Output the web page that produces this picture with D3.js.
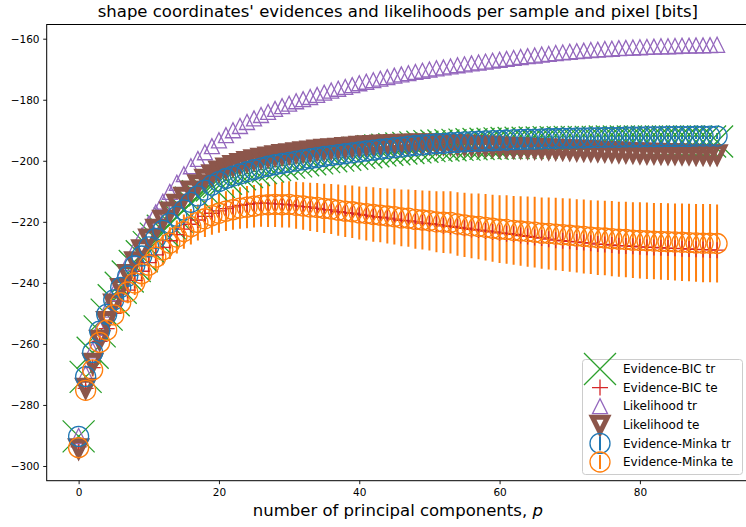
<!DOCTYPE html>
<html>
<head>
<meta charset="utf-8">
<script src="https://cdnjs.cloudflare.com/ajax/libs/d3/7.8.5/d3.min.js"></script>
<style>
body { margin: 0; background: #fff; }
text { font-family: "DejaVu Sans", sans-serif; fill: #000; }
</style>
</head>
<body>
<div id="chart"></div>
<script>
// values, p = 0..91
const components = d3.range(92);

const evidenceBicTr = [
  -290.3,-270.8,-262.9,-255.9,-250.4,-245.7,-241.6,-237.9,-234.5,-231.3,
  -228.3,-225.5,-222.9,-220.5,-218.3,-216.2,-213.7,-211.6,-209.7,-208.1,
  -206.9,-205.9,-205.1,-204.4,-203.7,-203.0,-202.4,-201.9,-201.4,-201.0,
  -200.6,-200.2,-199.8,-199.5,-199.2,-198.8,-198.5,-198.3,-198.0,-197.7,
  -197.4,-197.2,-196.9,-196.6,-196.4,-196.2,-196.0,-195.8,-195.6,-195.4,
  -195.2,-195.1,-195.0,-194.9,-194.8,-194.7,-194.6,-194.5,-194.4,-194.4,
  -194.3,-194.2,-194.2,-194.1,-194.1,-194.0,-194.0,-193.9,-193.9,-193.9,
  -193.8,-193.8,-193.8,-193.8,-193.8,-193.7,-193.7,-193.7,-193.7,-193.7,
  -193.7,-193.7,-193.7,-193.7,-193.7,-193.7,-193.7,-193.7,-193.7,-193.7,
  -193.7,-193.7];

const evidenceBicTe = [
  -293.7,-274.6,-267.8,-259.2,-255.0,-250.0,-246.0,-242.4,-239.2,-236.2,
  -233.4,-230.8,-228.4,-226.2,-224.2,-222.4,-220.8,-219.4,-218.2,-217.2,
  -216.4,-215.7,-215.1,-214.6,-214.3,-214.0,-213.9,-213.9,-214.1,-214.2,
  -214.4,-214.8,-215.0,-215.2,-215.6,-216.0,-216.2,-216.7,-217.0,-217.2,
  -217.6,-217.9,-218.3,-218.5,-218.8,-219.1,-219.5,-219.7,-220.0,-220.4,
  -220.6,-220.9,-221.3,-221.5,-221.8,-222.1,-222.5,-222.7,-223.0,-223.3,
  -223.6,-223.9,-224.1,-224.5,-224.8,-225.1,-225.3,-225.7,-226.0,-226.2,
  -226.4,-226.6,-226.8,-227.0,-227.3,-227.4,-227.6,-227.8,-227.9,-228.0,
  -228.2,-228.3,-228.4,-228.5,-228.6,-228.7,-228.8,-228.9,-229.0,-229.1,
  -229.2,-229.3];

const likelihoodTr = [
  -290.2,-269.7,-262.1,-254.7,-248.8,-243.4,-238.3,-233.5,-228.9,-224.6,
  -220.6,-216.9,-213.4,-210.2,-207.2,-204.4,-201.8,-199.4,-197.2,-195.2,
  -193.3,-191.6,-190.0,-188.6,-187.3,-186.1,-185.0,-184.0,-183.0,-182.1,
  -181.3,-180.5,-179.8,-179.1,-178.4,-177.7,-177.0,-176.4,-175.8,-175.2,
  -174.6,-174.1,-173.6,-173.1,-172.6,-172.1,-171.7,-171.3,-170.9,-170.5,
  -170.1,-169.7,-169.4,-169.1,-168.7,-168.4,-168.1,-167.8,-167.5,-167.2,
  -166.9,-166.6,-166.3,-166.0,-165.7,-165.5,-165.2,-165.0,-164.7,-164.5,
  -164.3,-164.1,-163.9,-163.7,-163.6,-163.4,-163.3,-163.1,-163.0,-162.9,
  -162.8,-162.7,-162.6,-162.5,-162.5,-162.4,-162.3,-162.3,-162.2,-162.2,
  -162.1,-162.0];

const likelihoodTe = [
  -294.2,-274.4,-266.2,-258.6,-252.5,-246.8,-241.7,-237.1,-232.9,-229.0,
  -225.5,-222.3,-219.3,-216.6,-214.1,-211.8,-209.7,-207.7,-205.9,-204.4,
  -203.2,-202.2,-201.4,-200.7,-200.1,-199.5,-199.0,-198.6,-198.2,-197.8,
  -197.5,-197.2,-196.9,-196.6,-196.3,-196.1,-195.9,-195.7,-195.5,-195.3,
  -195.1,-194.9,-194.8,-194.7,-194.6,-194.5,-194.4,-194.4,-194.3,-194.3,
  -194.3,-194.4,-194.4,-194.5,-194.6,-194.7,-194.8,-194.9,-195.0,-195.1,
  -195.3,-195.4,-195.5,-195.6,-195.7,-195.8,-195.9,-196.0,-196.1,-196.2,
  -196.3,-196.4,-196.5,-196.6,-196.7,-196.8,-196.9,-197.0,-197.1,-197.2,
  -197.3,-197.4,-197.4,-197.5,-197.6,-197.6,-197.7,-197.7,-197.8,-197.8,
  -197.9,-197.9];

const evidenceMinkaTr = [
  -290.3,-270.7,-262.8,-255.8,-250.3,-245.6,-241.5,-237.8,-234.4,-231.2,
  -228.2,-225.4,-222.8,-220.4,-218.2,-216.1,-213.6,-211.5,-209.6,-208.0,
  -206.8,-205.8,-205.0,-204.3,-203.6,-202.9,-202.3,-201.8,-201.3,-200.9,
  -200.5,-200.1,-199.7,-199.3,-199.0,-198.6,-198.3,-198.0,-197.7,-197.4,
  -197.1,-196.8,-196.5,-196.2,-196.0,-195.7,-195.5,-195.2,-195.0,-194.8,
  -194.6,-194.4,-194.3,-194.1,-194.0,-193.8,-193.7,-193.6,-193.5,-193.4,
  -193.3,-193.2,-193.1,-193.0,-192.9,-192.9,-192.8,-192.7,-192.7,-192.6,
  -192.6,-192.5,-192.5,-192.4,-192.4,-192.3,-192.3,-192.3,-192.2,-192.2,
  -192.2,-192.1,-192.1,-192.1,-192.0,-192.0,-192.0,-192.0,-191.9,-191.9,
  -191.9,-191.9];

const evidenceMinkaTrErr = [
  0.3,0.4,0.4,0.4,0.5,0.5,0.5,0.5,0.6,0.6,
  0.6,0.6,0.6,0.7,0.7,0.7,0.7,0.7,0.7,0.7,
  0.7,0.8,0.8,0.8,0.8,0.8,0.8,0.8,0.8,0.8,
  0.8,0.8,0.8,0.9,0.9,0.9,0.9,0.9,0.9,0.9,
  0.9,0.9,0.9,0.9,0.9,0.9,0.9,0.9,1.0,1.0,
  1.0,1.0,1.0,1.0,1.0,1.0,1.0,1.0,1.0,1.0,
  1.0,1.0,1.0,1.0,1.0,1.0,1.0,1.0,1.0,1.0,
  1.0,1.0,1.0,1.0,1.0,1.0,1.0,1.0,1.0,1.0,
  1.0,1.0,1.0,1.0,1.0,1.0,1.0,1.0,1.0,1.0,
  1.0,1.0];

const evidenceMinkaTe = [
  -294.0,-275.2,-268.5,-259.5,-255.5,-250.5,-246.5,-243.0,-240.0,-237.0,
  -234.2,-231.6,-229.2,-227.0,-225.0,-223.2,-221.6,-220.2,-219.0,-218.0,
  -217.2,-216.5,-216.0,-215.5,-215.2,-214.9,-214.5,-214.4,-214.3,-214.4,
  -214.3,-214.6,-214.8,-215.1,-215.3,-215.6,-215.8,-216.2,-216.5,-216.7,
  -217.1,-217.3,-217.6,-217.8,-218.1,-218.3,-218.7,-218.8,-219.2,-219.4,
  -219.6,-220.0,-220.1,-220.2,-220.7,-221.0,-221.3,-221.5,-221.8,-222.1,
  -222.4,-222.5,-222.8,-223.0,-223.2,-223.4,-223.7,-223.8,-224.0,-224.2,
  -224.4,-224.6,-224.8,-225.0,-225.2,-225.3,-225.5,-225.7,-225.8,-226.0,
  -226.1,-226.2,-226.3,-226.4,-226.5,-226.6,-226.7,-226.8,-226.9,-227.0,
  -227.0,-227.1];

const evidenceMinkaTeErr = [
  1.5,1.9,2.2,2.5,2.8,3.1,3.4,3.7,4.0,4.3,
  4.6,4.8,5.0,5.2,5.4,5.6,5.8,5.9,6.0,6.2,
  6.4,6.5,6.6,6.8,6.9,7.0,7.1,7.3,7.4,7.5,
  7.6,7.7,7.8,7.9,8.0,8.1,8.2,8.4,8.5,8.6,
  8.7,8.8,8.9,8.9,9.0,9.1,9.3,9.4,9.6,9.7,
  9.8,10.0,10.1,10.2,10.4,10.5,10.6,10.8,10.9,11.0,
  11.1,11.2,11.3,11.4,11.5,11.6,11.7,11.8,11.9,11.9,
  12.0,12.0,12.1,12.1,12.2,12.2,12.3,12.3,12.4,12.4,
  12.5,12.5,12.5,12.6,12.6,12.6,12.7,12.7,12.7,12.8,
  12.8,12.8];

const yTicks = [-300, -280, -260, -240, -220, -200, -180, -160];
const xTicks = [0, 20, 40, 60, 80];
const legendLabels = ["Evidence-BIC tr", "Evidence-BIC te", "Likelihood tr",
                      "Likelihood te", "Evidence-Minka tr", "Evidence-Minka te"];

// matplotlib tab10
const colors = {blue: "#1f77b4", orange: "#ff7f0e", green: "#2ca02c",
                red: "#d62728", purple: "#9467bd", brown: "#8c564b"};

const width = 746;
const height = 527;
const plotLeft = 46.7, plotRight = 749, plotTop = 24.5, plotBottom = 480.7;

const x = d3.scaleLinear().domain([-4.55, 95.55]).range([plotLeft, plotRight]);
const y = d3.scaleLinear().domain([-304.82, -155.35]).range([plotBottom, plotTop]);

// marker outlines around (0,0)
function markerPath(kind) {
    if (kind == "x") return "M-16,-16L16,16M-16,16L16,-16";
    if (kind == "+") return "M-8,0L8,0M0,-8L0,8";
    if (kind == "^") return "M0,-7.5L-7.5,7.5L7.5,7.5Z";
    if (kind == "v") return "M0,7.5L-7.5,-7.5L7.5,-7.5Z";
    return d3.arc()({innerRadius: 0, outerRadius: 10, startAngle: 0, endAngle: 2 * Math.PI});
}

// legend order; draw order follows matplotlib zorder (errorbar lines, plain lines, errorbar markers)
const series = [
    {label: legendLabels[0], values: evidenceBicTr, color: colors.green, marker: "x", sw: 1.3},
    {label: legendLabels[1], values: evidenceBicTe, color: colors.red, marker: "+", sw: 1.3},
    {label: legendLabels[2], values: likelihoodTr, color: colors.purple, marker: "^", sw: 1.3},
    {label: legendLabels[3], values: likelihoodTe, color: colors.brown, marker: "v", sw: 5},
    {label: legendLabels[4], values: evidenceMinkaTr, err: evidenceMinkaTrErr, color: colors.blue, marker: "o", sw: 1.3},
    {label: legendLabels[5], values: evidenceMinkaTe, err: evidenceMinkaTeErr, color: colors.orange, marker: "o", sw: 1.3}
];

const svg = d3.select("#chart")
    .append("svg")
    .attr("width", width)
    .attr("height", height);

svg.append("defs").append("clipPath")
    .attr("id", "plot-clip")
    .append("rect")
    .attr("x", plotLeft)
    .attr("y", plotTop)
    .attr("width", plotRight - plotLeft)
    .attr("height", plotBottom - plotTop);

const plot = svg.append("g").attr("clip-path", "url(#plot-clip)");

function drawErrorbars(s) {
    plot.append("g")
        .selectAll("line")
        .data(components)
        .enter()
        .append("line")
        .attr("x1", d => x(d))
        .attr("x2", d => x(d))
        .attr("y1", d => y(s.values[d] - s.err[d]))
        .attr("y2", d => y(s.values[d] + s.err[d]))
        .style("stroke", s.color)
        .style("stroke-width", 2);
}

function drawMarkers(s) {
    plot.append("g")
        .selectAll("path")
        .data(components)
        .enter()
        .append("path")
        .attr("d", markerPath(s.marker))
        .attr("transform", d => `translate(${x(d)},${y(s.values[d])})`)
        .style("fill", "none")
        .style("stroke", s.color)
        .style("stroke-width", s.sw)
        .style("stroke-linejoin", "miter");
}

series.filter(s => s.err).forEach(drawErrorbars);
series.filter(s => !s.err).forEach(drawMarkers);
series.filter(s => s.err).forEach(drawMarkers);

// axes
const xAxis = svg.append("g")
    .attr("transform", `translate(0,${plotBottom})`)
    .call(d3.axisBottom(x).tickValues(xTicks).tickSize(3.5).tickSizeOuter(0).tickPadding(4.5));
const yAxis = svg.append("g")
    .attr("transform", `translate(${plotLeft},0)`)
    .call(d3.axisLeft(y).tickValues(yTicks).tickSize(3.5).tickSizeOuter(0).tickPadding(3.7));
[xAxis, yAxis].forEach(g => {
    g.select(".domain").remove();
    g.selectAll("text").style("font-size", "10.5px").style("font-family", "DejaVu Sans");
    g.selectAll("line").style("stroke-width", 0.9);
});

svg.append("rect")
    .attr("x", plotLeft)
    .attr("y", plotTop)
    .attr("width", plotRight - plotLeft)
    .attr("height", plotBottom - plotTop)
    .style("fill", "none")
    .style("stroke", "black")
    .style("stroke-width", 1);

svg.append("text")
    .attr("x", (plotLeft + plotRight) / 2)
    .attr("y", 16.5)
    .attr("text-anchor", "middle")
    .style("font-size", "16.5px")
    .text("shape coordinates' evidences and likelihoods per sample and pixel [bits]");

const xlabel = svg.append("text")
    .attr("x", (plotLeft + plotRight) / 2)
    .attr("y", 516)
    .attr("text-anchor", "middle")
    .style("font-size", "16.5px");
xlabel.append("tspan").text("number of principal components, ");
xlabel.append("tspan").style("font-style", "italic").text("p");

// legend (lower right)
const legend = svg.append("g");
legend.append("rect")
    .attr("x", 582.5)
    .attr("y", 359.5)
    .attr("width", 160)
    .attr("height", 115)
    .attr("rx", 3)
    .style("fill", "white")
    .style("fill-opacity", 0.8)
    .style("stroke", "#cccccc")
    .style("stroke-width", 1);

series.forEach((s, i) => {
    const cy = 369 + i * 18.6;
    const row = legend.append("g").attr("transform", `translate(600,${cy})`);
    if (s.err) {
        row.append("line")
            .attr("y1", -7).attr("y2", 7)
            .style("stroke", s.color)
            .style("stroke-width", 2);
    }
    row.append("path")
        .attr("d", markerPath(s.marker))
        .style("fill", "none")
        .style("stroke", s.color)
        .style("stroke-width", s.sw)
        .style("stroke-linejoin", "miter");
    legend.append("text")
        .attr("x", 623)
        .attr("y", cy)
        .attr("dy", "0.35em")
        .style("font-size", "12px")
        .text(s.label);
});
</script>
</body>
</html>
